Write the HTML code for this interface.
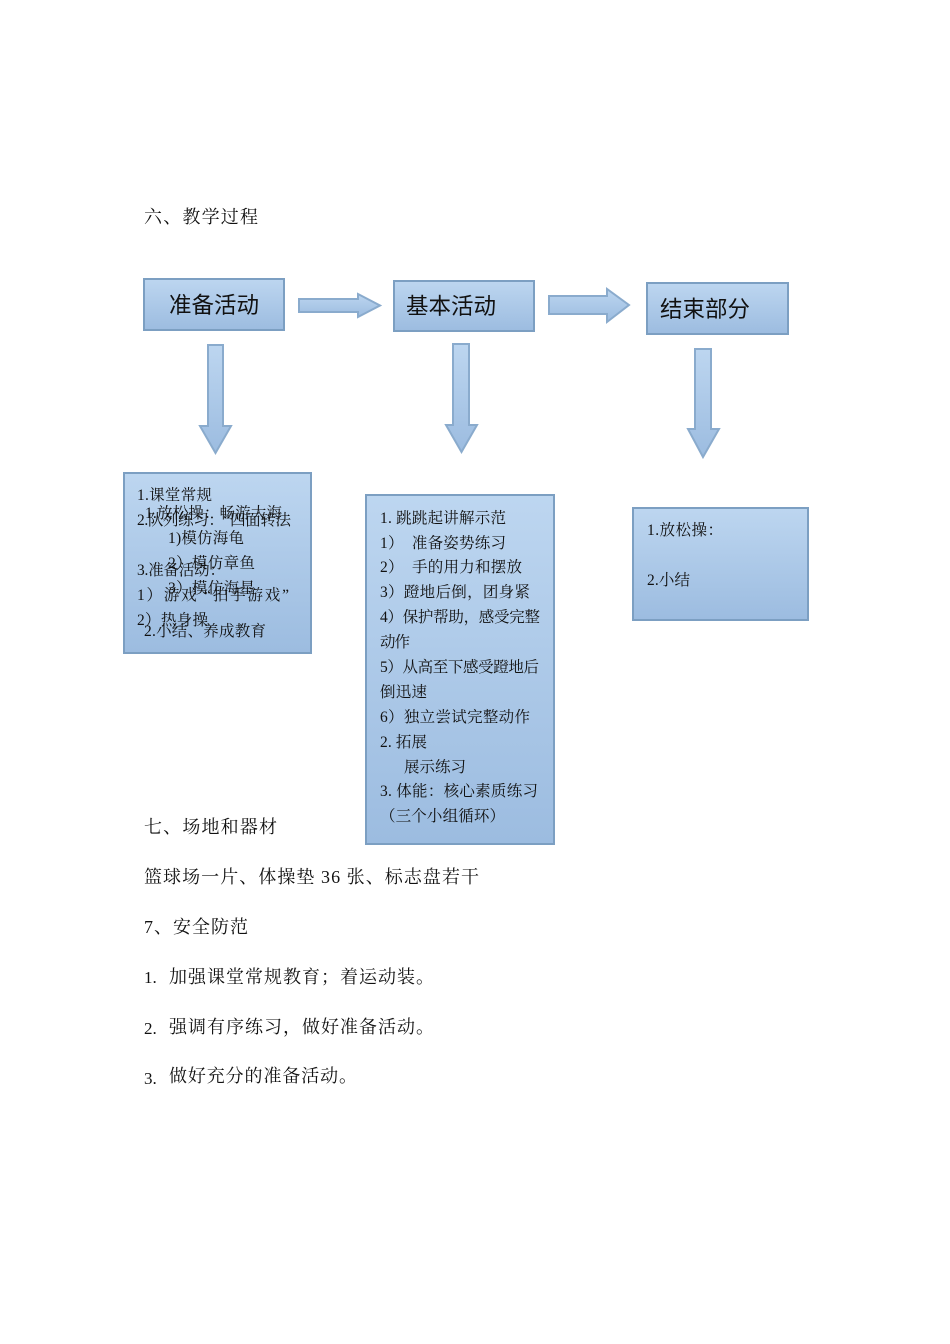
<!DOCTYPE html>
<html lang="zh"><head><meta charset="utf-8">
<style>
html,body{margin:0;padding:0;background:#fff}
#p{position:relative;width:950px;height:1344px;overflow:hidden;background:#fff}
svg{position:absolute;left:0;top:0}
text{font-family:"Liberation Serif","Noto Serif CJK SC",serif;fill:#111;white-space:pre}
.b{font-size:18px}
.n{font-size:17px}
.s{font-size:15.5px}
.h{font-family:"Liberation Sans","Noto Sans CJK SC",sans-serif;font-size:22.5px;fill:#111}
.r{fill:url(#g);stroke:#7c9fc2;stroke-width:2}
.a{fill:url(#g);stroke:#8aabcd;stroke-width:2}
</style></head><body><div id="p">
<svg width="950" height="1344" viewBox="0 0 950 1344">
<defs><linearGradient id="g" x1="0" y1="0" x2="0" y2="1"><stop offset="0" stop-color="#bdd6f0"/><stop offset="1" stop-color="#9cbce0"/></linearGradient></defs>
<text class="b" x="144" y="223" textLength="114">六、教学过程</text>

<rect class="r" x="144" y="279" width="140" height="51"/>
<rect class="r" x="394" y="281" width="140" height="50"/>
<rect class="r" x="647" y="283" width="141" height="51"/>
<text class="h" x="169" y="313">准备活动</text>
<text class="h" x="406" y="314">基本活动</text>
<text class="h" x="660" y="317">结束部分</text>

<polygon class="a" points="299,299 358,299 358,294 380,305.500 358,317 358,312 299,312"/>
<polygon class="a" points="549,296 607,296 607,289 629,305 607,322 607,314 549,314"/>
<polygon class="a" points="208,345 223,345 223,426 231,426 215.500,453 200,426 208,426"/>
<polygon class="a" points="453,344 469,344 469,425 477,425 461.500,452 446,425 453,425"/>
<polygon class="a" points="695,349 711,349 711,429 719,429 703,457 688,429 695,429"/>

<rect class="r" x="124" y="473" width="187" height="180"/>
<text class="s" x="137" y="500" textLength="75">1.课堂常规</text>
<text class="s" x="137" y="525" textLength="154">2.队列练习：“四面转法</text>
<text class="s" x="137" y="575" textLength="88">3.准备活动：</text>
<text class="s" x="137" y="600" textLength="152">1）游戏 “拍手游戏”</text>
<text class="s" x="137" y="625" textLength="71">2）热身操</text>
<text class="s" x="145" y="518" textLength="137">1.放松操：畅游大海</text>
<text class="s" x="168" y="543" textLength="76">1)模仿海龟</text>
<text class="s" x="168" y="568" textLength="87">2）模仿章鱼</text>
<text class="s" x="168" y="593" textLength="87">3）模仿海星</text>
<text class="s" x="144" y="636" textLength="122">2.小结、养成教育</text>

<rect class="r" x="366" y="495" width="188" height="349"/>
<text class="s" x="380" y="523" textLength="126">1. 跳跳起讲解示范</text>
<text class="s" x="380" y="548" textLength="126">1）  准备姿势练习</text>
<text class="s" x="380" y="572" textLength="142">2）  手的用力和摆放</text>
<text class="s" x="380" y="597" textLength="150">3）蹬地后倒，团身紧</text>
<text class="s" x="380" y="622" textLength="160">4）保护帮助，感受完整</text>
<text class="s" x="380" y="647" textLength="30">动作</text>
<text class="s" x="380" y="672" textLength="159">5）从高至下感受蹬地后</text>
<text class="s" x="380" y="697" textLength="47">倒迅速</text>
<text class="s" x="380" y="722" textLength="150">6）独立尝试完整动作</text>
<text class="s" x="380" y="747" textLength="47">2. 拓展</text>
<text class="s" x="404" y="772" textLength="62">展示练习</text>
<text class="s" x="380" y="796" textLength="158">3. 体能：核心素质练习</text>
<text class="s" x="380" y="821" textLength="125">（三个小组循环）</text>

<rect class="r" x="633" y="508" width="175" height="112"/>
<text class="s" x="647" y="535" textLength="76">1.放松操：</text>
<text class="s" x="647" y="585" textLength="43">2.小结</text>

<text class="b" x="144" y="833" textLength="133">七、场地和器材</text>
<text class="b" x="144" y="883" textLength="335">篮球场一片、体操垫 36 张、标志盘若干</text>
<text class="b" x="144" y="933" textLength="104">7、安全防范</text>
<text class="n" x="144" y="983">1.</text>
<text class="b" x="169" y="983" textLength="265">加强课堂常规教育；着运动装。</text>
<text class="n" x="144" y="1034">2.</text>
<text class="b" x="169" y="1033" textLength="265">强调有序练习，做好准备活动。</text>
<text class="n" x="144" y="1084">3.</text>
<text class="b" x="169" y="1082" textLength="188">做好充分的准备活动。</text>
</svg>
</div></body></html>
